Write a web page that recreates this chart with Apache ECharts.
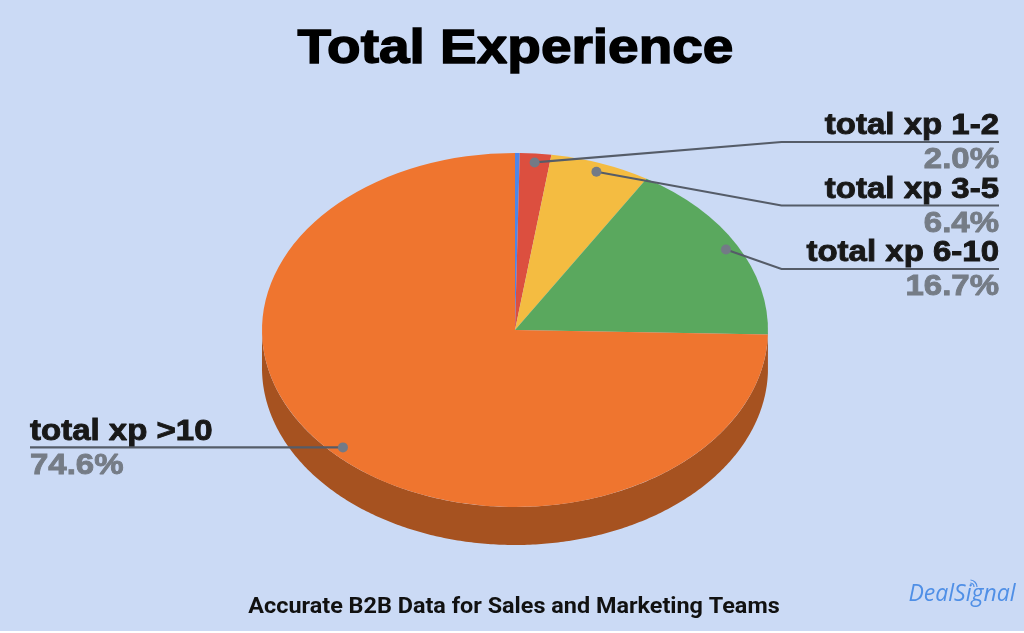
<!DOCTYPE html>
<html><head><meta charset="utf-8">
<style>html,body{margin:0;padding:0;background:#fff;overflow:hidden}#c{width:1024px;height:631px}</style>
<script src="https://cdn.jsdelivr.net/npm/echarts@6/dist/echarts.min.js"></script>
</head><body><div id="c"></div>
<script>
const categories = ['total xp <1','total xp 1-2','total xp 3-5','total xp 6-10','total xp >10'];
const values = [0.3,2.0,6.4,16.7,74.6];
const valueLabels = ['0.3%','2.0%','6.4%','16.7%','74.6%'];
const topColors = ['#4e86e8','#dc4f3f','#f4bc41','#5aa85e','#ef752f'];
const sideColors = ['#365da2','#9a372c','#aa832d','#3f7541','#a65220'];
const titleText = 'Total Experience';
const subtitleText = 'Accurate B2B Data for Sales and Marketing Teams';
const logoText = 'DealSignal';

const BG='#cbdaf5', PIE={cx:515,cy:330,rx:253,ry:177,depth:38}, STRETCH=1.1;
const LEADER='#555c68', DOT='#737a86', NAMEC='#181818', VALC='#757c86';
const FONT='bold 30px "Liberation Sans"';
const ELBOW={1:142,2:205.5,3:269}; // rule heights of the right-hand labels

const total=values.reduce((a,b)=>a+b,0);
function range(i){let s=0;for(let k=0;k<i;k++)s+=values[k];return [s/total*2*Math.PI,(s+values[i])/total*2*Math.PI];}
function pt(t,f,dy){return [PIE.cx+PIE.rx*f*Math.sin(t),PIE.cy-PIE.ry*f*Math.cos(t)+(dy||0)];}
const data=values.map((v,i)=>({name:categories[i],value:v}));

function sideItem(p){
  const i=p.dataIndex,[s,e]=range(i),a=Math.max(s,Math.PI/2),b=Math.min(e,Math.PI*1.5);
  if(b<=a)return null;
  const up=[],dn=[];const n=Math.ceil((b-a)*90);
  for(let k=0;k<=n;k++){const t=a+(b-a)*k/n;up.push(pt(t,1,0));dn.unshift(pt(t,1,PIE.depth));}
  return {type:'polygon',shape:{points:up.concat(dn)},style:{fill:sideColors[i]},silent:true};
}
function topItem(p){
  const i=p.dataIndex,[s,e]=range(i);
  return {type:'sector',x:PIE.cx,y:PIE.cy,scaleY:PIE.ry/PIE.rx,
    shape:{cx:0,cy:0,r0:0,r:PIE.rx,startAngle:s-Math.PI/2,endAngle:e-Math.PI/2,clockwise:true},
    style:{fill:topColors[i]}};
}
function txt(x,y,t,fill,align){return {type:'text',x:x,y:y,scaleX:STRETCH,
  style:{text:t,fill:fill,stroke:fill,lineWidth:0.9,font:FONT,align:align,verticalAlign:'middle'}};}
function labelItem(p){
  const i=p.dataIndex;if(i===0)return null;
  const [s,e]=range(i),d=pt((s+e)/2,0.95),ch=[];
  let pts,nx,al;
  if(ELBOW[i]!==undefined){pts=[d,[781.5,ELBOW[i]],[999,ELBOW[i]]];nx=999;al='right';}
  else{pts=[d,[30,d[1]]];nx=30;al='left';}
  const ry=pts[pts.length-1][1];
  ch.push({type:'polyline',shape:{points:pts},style:{stroke:LEADER,lineWidth:2.2,fill:null}});
  ch.push({type:'circle',shape:{cx:d[0],cy:d[1],r:5},style:{fill:DOT}});
  ch.push(txt(nx,ry-16,categories[i],NAMEC,al));
  ch.push(txt(nx,ry+18,valueLabels[i],VALC,al));
  return {type:'group',children:ch};
}
const chart=echarts.init(document.getElementById('c'));
chart.setOption({
  backgroundColor:BG,animation:false,
  series:[
    {type:'custom',coordinateSystem:'none',data:data,renderItem:sideItem,silent:true,z:1},
    {type:'custom',coordinateSystem:'none',data:data,renderItem:topItem,silent:true,z:2},
    {type:'custom',coordinateSystem:'none',data:data,renderItem:labelItem,silent:true,z:3}
  ],
  graphic:[
    {type:'text',x:515.5,y:50,scaleX:1.145,style:{text:titleText,fill:'#000',stroke:'#000',lineWidth:1.4,font:'bold 48px "Liberation Sans"',align:'center',verticalAlign:'middle'}},
    {type:'text',x:514,y:607,scaleX:1.04,style:{text:subtitleText,fill:'#111',font:'bold 22.5px Roboto',align:'center',verticalAlign:'middle'}},
    {type:'text',x:962,y:594,style:{text:logoText,fill:'#4f8fe6',font:'italic 23px "Open Sans"',align:'center',verticalAlign:'middle'}},
    {type:'arc',shape:{cx:970,cy:587,r:4,startAngle:-1.5,endAngle:0},style:{fill:null,stroke:'#4f8fe6',lineWidth:1.2}},
    {type:'arc',shape:{cx:970,cy:587,r:7,startAngle:-1.5,endAngle:0},style:{fill:null,stroke:'#4f8fe6',lineWidth:1.2}}
  ]
});
</script></body></html>
